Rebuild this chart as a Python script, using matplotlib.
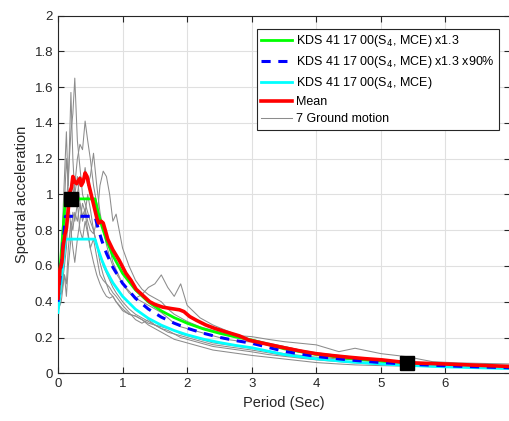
import numpy as np
import matplotlib.pyplot as plt

plt.rcParams['font.family'] = ['Liberation Sans', 'DejaVu Sans']

# design spectra
T_des = [0, 0.115, 0.573, 0.62, 0.68, 0.75, 0.85, 1.0, 1.2, 1.4, 1.6, 1.8, 2.0,
         2.25, 2.5, 2.75, 3.0, 3.5, 4.0, 4.5, 5.0, 5.5, 6.0, 6.5, 7.0]
sa_mce = [0.34, 0.75, 0.75, 0.694, 0.632, 0.573, 0.506, 0.43, 0.358, 0.307, 0.269,
          0.239, 0.215, 0.191, 0.172, 0.156, 0.143, 0.105, 0.081, 0.064, 0.052,
          0.043, 0.036, 0.031, 0.026]
sa_13 = [0.44, 0.975, 0.975, 0.902, 0.822, 0.745, 0.658, 0.559, 0.466, 0.399, 0.349,
         0.311, 0.280, 0.248, 0.224, 0.203, 0.186, 0.137, 0.105, 0.083, 0.067,
         0.055, 0.047, 0.040, 0.034]
sa_13_90 = [0.40, 0.8775, 0.8775, 0.812, 0.740, 0.671, 0.592, 0.503, 0.419, 0.359,
            0.314, 0.280, 0.252, 0.224, 0.201, 0.183, 0.168, 0.123, 0.094, 0.075,
            0.060, 0.050, 0.042, 0.036, 0.031]

# mean spectrum
T_mean = [0, 0.03, 0.06, 0.08, 0.11, 0.13, 0.16, 0.18, 0.21, 0.23, 0.26, 0.29, 0.32,
          0.34, 0.36, 0.39, 0.42, 0.45, 0.48, 0.52, 0.56, 0.6, 0.63, 0.67, 0.7, 0.74,
          0.77, 0.85, 0.95, 1.05, 1.13, 1.21, 1.3, 1.42, 1.5, 1.62, 1.75, 1.88, 1.95,
          2.04, 2.15, 2.29, 2.42, 2.55, 2.81, 2.96, 3.25, 3.5, 3.75, 3.99, 4.25, 4.5,
          4.75, 5.02, 5.41, 5.75, 6.0, 6.5, 7.0]
sa_mean = [0.42, 0.58, 0.62, 0.71, 0.78, 0.81, 0.92, 1.01, 1.04, 1.10, 1.07, 1.06, 1.08,
           1.09, 1.05, 1.07, 1.12, 1.10, 1.05, 0.99, 0.93, 0.87, 0.84, 0.85, 0.84, 0.79,
           0.75, 0.69, 0.63, 0.56, 0.52, 0.47, 0.44, 0.40, 0.385, 0.37, 0.362, 0.355,
           0.345, 0.317, 0.295, 0.27, 0.252, 0.237, 0.209, 0.185, 0.162, 0.143, 0.125,
           0.11, 0.099, 0.09, 0.082, 0.075, 0.059, 0.055, 0.052, 0.045, 0.038]

# 7 ground motion records
T_gm = [0, 0.05, 0.1, 0.13, 0.16, 0.2, 0.23, 0.26, 0.3, 0.34, 0.38, 0.42, 0.46, 0.5,
        0.55, 0.6, 0.65, 0.7, 0.75, 0.8, 0.85, 0.9, 1.0, 1.1, 1.2, 1.3, 1.4, 1.5, 1.6,
        1.7, 1.8, 1.9, 2.0, 2.2, 2.4, 2.6, 2.8, 3.0, 3.25, 3.5, 3.75, 4.0, 4.35, 4.6,
        5.0, 5.4, 5.8, 6.2, 6.6, 7.0]
gm1 = [0.40, 0.55, 0.80, 0.95, 1.10, 1.35, 1.45, 1.65, 1.30, 1.15, 1.00, 0.95, 0.90,
       0.85, 0.80, 0.72, 0.66, 0.60, 0.56, 0.52, 0.48, 0.45, 0.40, 0.36, 0.33, 0.31,
       0.29, 0.27, 0.26, 0.25, 0.24, 0.22, 0.21, 0.19, 0.17, 0.16, 0.15, 0.14, 0.125,
       0.11, 0.10, 0.09, 0.08, 0.075, 0.065, 0.058, 0.05, 0.046, 0.042, 0.038]
gm2 = [0.38, 0.50, 0.95, 1.20, 1.05, 1.57, 1.20, 1.00, 1.10, 0.95, 0.85, 0.90, 0.80,
       0.70, 0.75, 0.65, 0.55, 0.52, 0.50, 0.48, 0.45, 0.43, 0.38, 0.34, 0.30, 0.28,
       0.30, 0.27, 0.25, 0.23, 0.22, 0.21, 0.20, 0.18, 0.16, 0.15, 0.14, 0.13, 0.115,
       0.10, 0.09, 0.08, 0.07, 0.065, 0.055, 0.05, 0.045, 0.04, 0.037, 0.034]
gm3 = [0.42, 0.60, 0.70, 0.85, 1.00, 0.95, 1.10, 1.05, 1.20, 1.28, 1.25, 1.41, 1.30,
       1.20, 1.05, 0.95, 0.85, 0.80, 0.75, 0.70, 0.62, 0.58, 0.50, 0.45, 0.42, 0.40,
       0.38, 0.36, 0.34, 0.31, 0.28, 0.26, 0.25, 0.23, 0.21, 0.19, 0.18, 0.175, 0.165,
       0.15, 0.13, 0.115, 0.10, 0.09, 0.075, 0.065, 0.058, 0.052, 0.048, 0.044]
gm4 = [0.36, 0.65, 1.10, 1.35, 1.00, 0.80, 0.70, 0.62, 0.75, 0.85, 0.95, 0.90, 1.00,
       0.92, 0.80, 0.72, 0.62, 0.55, 0.50, 0.45, 0.43, 0.40, 0.35, 0.33, 0.32, 0.30,
       0.28, 0.27, 0.25, 0.24, 0.22, 0.20, 0.19, 0.17, 0.15, 0.14, 0.13, 0.12, 0.105,
       0.095, 0.085, 0.075, 0.065, 0.058, 0.05, 0.045, 0.04, 0.036, 0.033, 0.031]
gm5 = [0.40, 0.45, 0.60, 0.70, 0.90, 1.00, 1.05, 0.95, 1.00, 1.10, 1.05, 1.15, 1.05,
       1.10, 1.23, 1.05, 0.90, 0.80, 0.72, 0.65, 0.60, 0.56, 0.50, 0.46, 0.42, 0.44,
       0.48, 0.50, 0.55, 0.48, 0.43, 0.50, 0.38, 0.31, 0.27, 0.24, 0.21, 0.19, 0.17,
       0.15, 0.13, 0.11, 0.095, 0.085, 0.07, 0.06, 0.052, 0.047, 0.043, 0.04]
gm6 = [0.35, 0.40, 0.55, 0.50, 0.70, 0.85, 0.80, 0.90, 0.85, 0.95, 0.88, 0.92, 0.85,
       0.80, 0.78, 0.85, 1.05, 1.13, 1.10, 1.00, 0.85, 0.89, 0.70, 0.60, 0.52, 0.47,
       0.44, 0.42, 0.40, 0.36, 0.33, 0.31, 0.29, 0.26, 0.24, 0.22, 0.21, 0.205, 0.19,
       0.177, 0.168, 0.159, 0.121, 0.14, 0.11, 0.093, 0.065, 0.058, 0.055, 0.052]
gm7 = [0.34, 0.45, 0.55, 0.43, 0.60, 0.75, 0.90, 0.85, 0.95, 0.80, 0.75, 0.85, 0.78,
       0.70, 0.62, 0.55, 0.50, 0.46, 0.43, 0.42, 0.43, 0.40, 0.36, 0.33, 0.32, 0.30,
       0.27, 0.25, 0.23, 0.21, 0.19, 0.18, 0.17, 0.15, 0.13, 0.12, 0.11, 0.10, 0.09,
       0.08, 0.07, 0.06, 0.052, 0.047, 0.043, 0.04, 0.037, 0.034, 0.032, 0.03]
records = [gm1, gm2, gm3, gm4, gm5, gm6, gm7]

# scaling period range markers
T_mark = [0.2, 5.4]
sa_mark = [0.975, 0.06]

fig = plt.figure(figsize=(5.1, 4.21), dpi=100)
ax = fig.add_axes([58/510, (421-373.3)/421, 1 - 58/510, (373.3-15.5)/421])

for i, r in enumerate(records):
    ax.plot(T_gm, r, color=(0.55, 0.55, 0.55), lw=0.75,
            label='7 Ground motion' if i == 0 else None, zorder=2)
ax.plot(T_des, sa_13, color=(0, 1, 0), lw=2.0, label='KDS 41 17 00(S$_4$, MCE) x1.3', zorder=3)
ax.plot(T_des, sa_13_90, color=(0, 0, 1), lw=2.2, ls=(0, (3, 2.5)),
        label='KDS 41 17 00(S$_4$, MCE) x1.3 x90%', zorder=4)
ax.plot(T_des, sa_mce, color=(0, 1, 1), lw=2.0, label='KDS 41 17 00(S$_4$, MCE)', zorder=3)
ax.plot(T_mean, sa_mean, color=(1, 0, 0), lw=2.6, label='Mean', zorder=5)
ax.plot(T_mark, sa_mark, 's', color='k', ms=9.5, zorder=6)

ax.set_xlim(0, 7)
ax.set_ylim(0, 2)
ax.set_xticks(np.arange(0, 7, 1))
ax.set_yticks(np.arange(0, 2.01, 0.2))
ax.set_yticklabels(['0', '0.2', '0.4', '0.6', '0.8', '1', '1.2', '1.4', '1.6', '1.8', '2'])
ax.tick_params(direction='in', top=True, right=True, labelsize=9.5, length=4,
               width=0.8, colors=(0.15, 0.15, 0.15))
ax.grid(True, color=(0.88, 0.88, 0.88), lw=0.8)
ax.set_axisbelow(True)
for s in ax.spines.values():
    s.set_color((0.15, 0.15, 0.15))
    s.set_linewidth(0.8)

ax.set_xlabel('Period (Sec)', fontsize=10.5, color=(0.15, 0.15, 0.15))
ax.set_ylabel('Spectral acceleration', fontsize=10.5, color=(0.15, 0.15, 0.15))

h, l = ax.get_legend_handles_labels()
order = [1, 2, 3, 4, 0]
leg = ax.legend([h[i] for i in order], [l[i] for i in order], loc='upper right',
                fontsize=9, fancybox=False, framealpha=1,
                edgecolor=(0.15, 0.15, 0.15), borderpad=0.35,
                labelspacing=0.4, handlelength=2.5, handletextpad=0.3,
                borderaxespad=0)
leg.get_frame().set_linewidth(0.8)
leg.set_bbox_to_anchor(((499-58)/(510-58), 1 - (29-15.5)/(373.3-15.5)), transform=ax.transAxes)

fig.savefig('out.png', dpi=100)
